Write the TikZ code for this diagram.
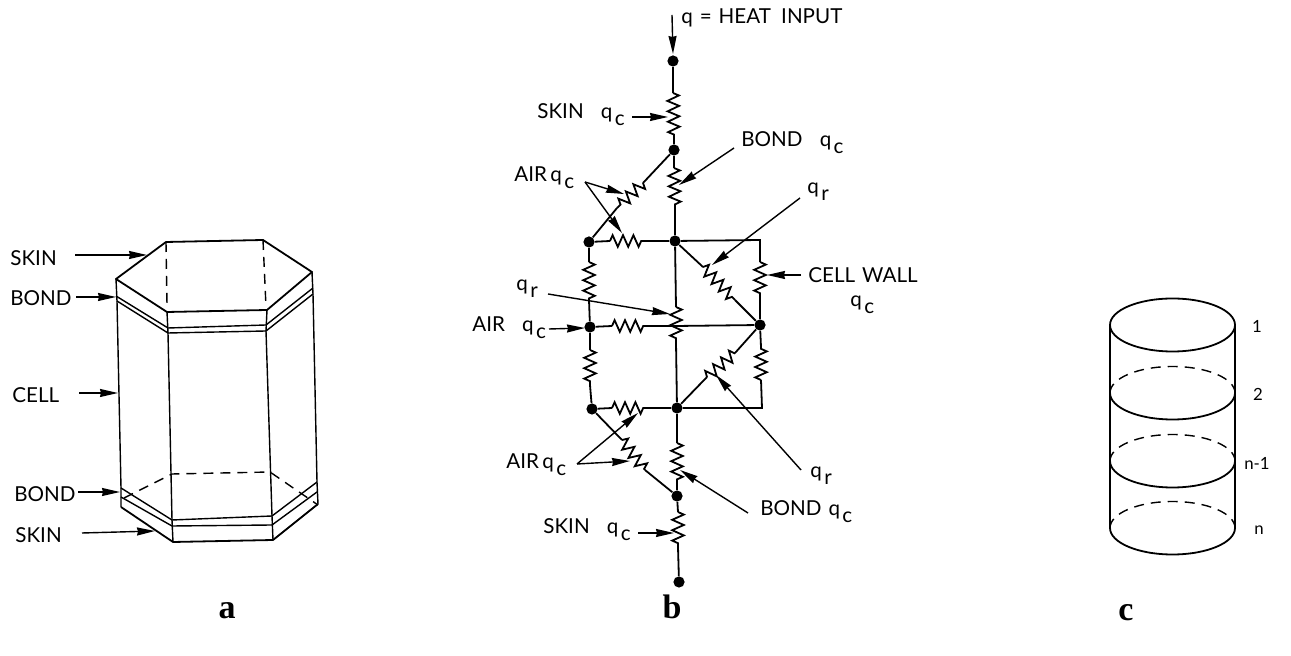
\documentclass[tikz,border=0pt]{standalone}
\usepackage{fontspec}
\setmainfont{Lato}
\newfontfamily\capfont{Liberation Serif}
\usetikzlibrary{arrows.meta,decorations.pathmorphing}
\newcommand{\qs}[1]{q\kern1.2pt\raisebox{-3.4pt}{#1}}
\tikzset{
  x=0.5pt,y=-0.5pt,
  ln/.style={line width=0.9pt,black},
  thin line/.style={line width=0.7pt,black},
  dashline/.style={line width=0.7pt,black,dash pattern=on 5pt off 3.5pt},
  arr/.style={line width=0.7pt,black,-{Stealth[length=9pt,width=4pt,inset=0.5pt]}},
  dotn/.style={circle,fill=black,inner sep=0pt,minimum size=5.6pt},
  lab/.style={inner sep=0pt,anchor=west,font=\fontsize{10.3}{12}\selectfont},
  big/.style={inner sep=0pt,font=\capfont\bfseries\fontsize{17}{20}\selectfont},
  num/.style={inner sep=0pt,font=\fontsize{8.4}{10}\selectfont},
  res/.style={line width=0.9pt,black,line join=miter,decoration={zigzag,segment length=5.2pt,amplitude=2.9pt},decorate},
}
\begin{document}
\begin{tikzpicture}
\useasboundingbox (0,0) rectangle (1291,656);
% ---------- part a ----------
\coordinate (tl) at (116,279); \coordinate (tbl) at (166,242); \coordinate (tbr) at (263,240);
\coordinate (tr) at (312,272); \coordinate (tfr) at (267,310); \coordinate (tfl) at (167,312);
\coordinate (bl1) at (116,296); \coordinate (bl2) at (117,301);
\coordinate (bfl1) at (168,328); \coordinate (bfl2) at (168,333);
\coordinate (bfr1) at (266,325); \coordinate (bfr2) at (266,331);
\coordinate (br1) at (313,288); \coordinate (br2) at (313,294);
\coordinate (cl) at (121,488); \coordinate (cfl) at (172,520); \coordinate (cfr) at (272,516); \coordinate (cr) at (317,482);
\coordinate (dl) at (121,497); \coordinate (dfl) at (172,526); \coordinate (dfr) at (272,525); \coordinate (dr) at (317,492);
\coordinate (el) at (121,507); \coordinate (efl) at (173,542); \coordinate (efr) at (273,540); \coordinate (er) at (318,504);
\draw[ln,line join=round] (tl)--(tbl)--(tbr)--(tr)--(tfr)--(tfl)--cycle;
\draw[thin line] (tl)--(bl2) (tfl)--(bfl2) (tfr)--(bfr2) (tr)--(br2);
\draw[thin line] (bl1)--(bfl1)--(bfr1)--(br1) (bl2)--(bfl2)--(bfr2)--(br2);
\draw[thin line] (bl2)--(cl) (bfl2)--(cfl) (bfr2)--(cfr) (br2)--(cr);
\draw[thin line] (cl)--(cfl)--(cfr)--(cr) (dl)--(dfl)--(dfr)--(dr);
\draw[thin line] (cl)--(el) (cfl)--(efl) (cfr)--(efr) (cr)--(er);
\draw[ln,line join=round] (el)--(efl)--(efr)--(er);
\draw[dashline] (tbl)--(167,305) (tbr)--(266,307);
\draw[dashline] (124,498)--(172,474)--(270,472)--(318,505);
\node[lab] (askin1) at (10,258) {SKIN};
\node[lab] (abond1) at (10,298) {BOND};
\node[lab] (acell) at (12,395) {CELL};
\node[lab] (abond2) at (14,494) {BOND};
\node[lab] (askin2) at (15,535) {SKIN};
\coordinate (as1) at (147,255); \coordinate (ab1) at (116,297); \coordinate (ac) at (118,393);
\coordinate (ab2) at (120,492); \coordinate (as2) at (155,531);
\draw[arr] (75,255)--(as1);
\draw[arr] (76,297)--(ab1);
\draw[arr] (79,393)--(ac);
\draw[arr] (78,492)--(ab2);
\draw[arr] (82,533)--(as2);
\node[big] (capa) at (227,611) {a};
% ---------- part b ----------
\node[dotn] (n1) at (673,61) {};
\node[dotn] (n2) at (674,150) {};
\node[dotn] (c1) at (675,241) {};
\node[dotn] (c3) at (677,408) {};
\node[dotn] (n5) at (677,496) {};
\node[dotn] (n6) at (679,582) {};
\node[dotn] (l1) at (589,242) {};
\node[dotn] (l2) at (590,327) {};
\node[dotn] (l3) at (592,409) {};
\node[dotn] (r2) at (760,325) {};
\coordinate (rt) at (760,240); \coordinate (rb) at (762,408);
\coordinate (c2) at (676,326);
% vertical chain
\draw[ln] (n1)--(673,93); \draw[res] (673,93)--(674,135); \draw[ln] (674,135)--(n2);
\draw[ln] (n2)--(674,168); \draw[res] (674,168)--(675,205); \draw[ln] (675,205)--(c1);
\draw[ln] (c1)--(676,307); \draw[res] (676,307)--(676,342); \draw[ln] (676,342)--(c3);
\draw[ln] (c3)--(677,443); \draw[res] (677,443)--(677,480); \draw[ln] (677,480)--(n5);
\draw[ln] (n5)--(678,512); \draw[res] (678,512)--(678,547); \draw[ln] (678,547)--(n6);
% air diagonals
\draw[ln] (n2)--(643,183); \draw[res] (643,183)--(617,208); \draw[ln] (617,208)--(l1);
\draw[ln] (l3)--(622,440); \draw[res] (622,440)--(645,470); \draw[ln] (645,470)--(n5);
% horizontals
\draw[ln] (l1)--(610,241); \draw[res] (610,241)--(645,241); \draw[ln] (645,241)--(c1);
\draw[ln] (l2)--(612,326); \draw[res] (612,326)--(648,326); \draw[ln] (648,326)--(c2);
\draw[ln] (l3)--(612,408); \draw[res] (612,408)--(648,408); \draw[ln] (648,408)--(c3);
\draw[ln] (c2)--(r2);
% left verticals
\draw[ln] (l1)--(589,262); \draw[res] (589,262)--(589,300); \draw[ln] (589,300)--(l2);
\draw[ln] (l2)--(590,350); \draw[res] (590,350)--(590,385); \draw[ln] (590,385)--(l3);
% right side
\draw[ln] (c1)--(rt)--(760,262); \draw[res] (760,262)--(760,297); \draw[ln] (760,297)--(r2);
\draw[ln] (c3)--(rb)--(761,380); \draw[res] (761,380)--(761,347); \draw[ln] (761,347)--(r2);
\draw[ln] (c1)--(703,267); \draw[res] (703,267)--(735,300); \draw[ln] (735,300)--(r2);
\draw[ln] (c3)--(707,377); \draw[res] (707,377)--(735,353); \draw[ln] (735,353)--(r2);
% labels b
\node[lab] (heat) at (681,18) {q\,\,=\,\,HEAT\,\,\,INPUT};
\node[lab] (bskin1) at (537,115) {SKIN\,\,\,\,\,\qs{c}};
\node[lab] (bbond1) at (741,143) {BOND\,\,\,\,\,\qs{c}};
\node[lab] (bair1) at (514,178) {AIR\,\qs{c}};
\node[lab] (bqr1) at (807,192) {\qs{r}};
\node[lab] (bqr2) at (516,289) {\qs{r}};
\node[lab] (bwall) at (808,275) {CELL\,\,WALL};
\node[lab] (bwallq) at (850,305) {\qs{c}};
\node[lab] (bair2) at (472,328) {AIR\,\,\,\,\,\qs{c}};
\node[lab] (bair3) at (506,465) {AIR\,\qs{c}};
\node[lab] (bqr3) at (810,476) {\qs{r}};
\node[lab] (bbond2) at (760,512) {BOND\,\,\qs{c}};
\node[lab] (bskin2) at (543,530) {SKIN\,\,\,\,\,\qs{c}};
% arrows b
\coordinate (aheat) at (673,54);
\draw[arr] (672,15)--(aheat);
\draw[arr] (632,117)--(668,117);
\draw[arr] (734,148)--(679,185);
\draw[arr] (585,182)--(624,194);
\draw[arr] (585,182)--(622,233);
\draw[arr] (800,198)--(712,265);
\draw[arr] (801,275)--(767,275);
\draw[arr] (548,294)--(670,314);
\draw[arr] (549,329)--(585,328);
\draw[arr] (577,464)--(630,461);
\draw[arr] (577,464)--(638,413);
\draw[arr] (801,470)--(716,375);
\draw[arr] (748,513)--(680,470);
\draw[arr] (638,533)--(674,533);
\node[big] (capb) at (672,607) {b};
% ---------- part c ----------
\coordinate (ctl) at (1110,325); \coordinate (ctr) at (1235,325);
\coordinate (cbl) at (1110,528); \coordinate (cbr) at (1235,528);
\draw[ln] (1172.5,325) ellipse [x radius=62.5,y radius=-26.5];
\draw[ln] (ctl)--(cbl) (ctr)--(cbr);
\foreach \yy in {393,461,528}{
  \draw[ln] (1110,\yy) arc[start angle=180,end angle=360,x radius=62.5,y radius=-26.5];
  \draw[dashline] (1110,\yy) arc[start angle=180,end angle=0,x radius=62.5,y radius=-26.5];
}
\node[num] (c1l) at (1257,326) {1};
\node[num] (c2l) at (1258,394) {2};
\node[num] (c3l) at (1257,463) {n-1};
\node[num] (c4l) at (1259,530) {n};
\node[big] (capc) at (1126,613) {c};
\end{tikzpicture}
\end{document}
